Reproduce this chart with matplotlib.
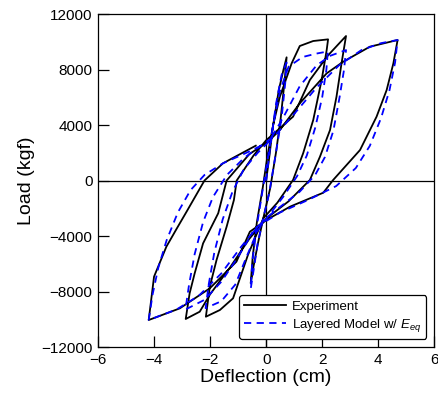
import numpy as np
import matplotlib.pyplot as plt

plt.rcParams['font.family'] = ['Liberation Sans', 'DejaVu Sans']
plt.rcParams['mathtext.fontset'] = 'custom'
plt.rcParams['mathtext.rm'] = 'Liberation Sans'
plt.rcParams['mathtext.it'] = 'Liberation Sans:italic'

# measured load-deflection history (cm, kgf)
exp_defl = [0.00, 0.10, 0.25, 0.45, 0.62, 0.73,
            0.66, 0.52, 0.35, 0.15, -0.10, -0.30, -0.45, -0.55,
            -0.48, -0.33, -0.12, 0.05, 0.25, 0.49, 0.91, 1.20, 1.68, 2.21,
            2.16, 1.98, 1.68, 1.32, 0.96, 0.40, -0.10, -0.65, -1.18, -1.65, -2.15,
            -2.01, -1.77, -1.41, -1.15, -1.05, -0.45, 0.00, 0.96, 1.56, 2.20, 2.85,
            2.69, 2.51, 2.28, 1.92, 1.56, 0.80, 0.00, -0.60, -1.30, -2.00, -2.37, -2.87,
            -2.73, -2.55, -2.25, -1.71, -1.41, -0.60, 0.07, 0.49, 1.20, 2.16, 2.75, 3.70, 4.69,
            4.54, 4.30, 3.94, 3.35, 2.39, 2.04, 0.85, 0.01, -0.58, -1.06, -2.01, -3.08, -4.19,
            -4.00, -3.56, -3.20, -2.84, -2.20, -1.54, -0.37]
exp_load = [0, 1500, 4000, 6500, 8000, 8880,
            7200, 4500, 2000, -500, -2700, -4600, -6200, -7410,
            -5500, -3000, -500, 1800, 4000, 6040, 8446, 9694, 10054, 10173,
            9405, 7243, 4360, 1960, 36, -1600, -2720, -5370, -8490, -9333, -9816,
            -7650, -5730, -3330, -1405, 0, 1800, 2900, 4600, 7243, 9000, 10414,
            8446, 6040, 3640, 1715, 36, -1500, -2750, -4200, -6300, -8200, -9455, -9980,
            -8130, -6690, -4530, -2360, 0, 1900, 2800, 3640, 5564, 7724, 8562, 9643, 10126,
            8446, 6522, 4600, 2198, 36, -879, -1887, -2847, -3690, -5850, -7770, -9213, -10054,
            -6930, -4770, -3500, -2250, 0, 1240, 2510]

# layered model prediction
mod_defl = [0.00, 0.15, 0.35, 0.55, 0.73,
            0.68, 0.55, 0.35, 0.10, -0.10, -0.30, -0.45, -0.55,
            -0.50, -0.35, -0.15, 0.05, 0.25, 0.50, 0.80, 1.30, 1.80, 2.20,
            2.15, 2.00, 1.75, 1.45, 1.10, 0.60, 0.10, -0.30, -0.70, -1.10, -1.60, -2.16,
            -2.05, -1.85, -1.55, -1.20, -0.80, -0.30, 0.10, 0.60, 1.20, 1.80, 2.30, 2.85,
            2.78, 2.62, 2.40, 2.10, 1.75, 1.20, 0.50, 0.00, -0.50, -1.00, -1.60, -2.20, -2.88,
            -2.75, -2.55, -2.25, -1.90, -1.40, -0.80, -0.20, 0.30, 1.00, 1.80, 2.60, 3.40, 4.10, 4.69,
            4.60, 4.40, 4.10, 3.70, 3.20, 2.50, 1.50, 0.50, -0.30, -0.90, -1.60, -2.40, -3.20, -4.19,
            -4.05, -3.85, -3.55, -3.15, -2.70, -2.20, -1.54, -0.70, 0.00]
mod_load = [0, 2500, 5500, 7600, 8500,
            7000, 4500, 2000, -1000, -2700, -4500, -6500, -7800,
            -6000, -3500, -1000, 1500, 4000, 6500, 8200, 8900, 9150, 9300,
            8000, 6000, 3800, 1800, 300, -1200, -2500, -3600, -5500, -7500, -8700, -9200,
            -7500, -5200, -2800, -800, 800, 2000, 2800, 4500, 6800, 8300, 9000, 9400,
            8000, 6000, 3600, 1700, 400, -800, -1900, -2700, -3800, -5500, -7300, -8600, -9300,
            -7500, -5300, -3000, -1200, 400, 1600, 2500, 3200, 4800, 6700, 8300, 9400, 9900, 10126,
            8500, 6500, 4500, 2500, 900, -400, -1400, -2300, -3300, -4800, -6700, -8300, -9300, -10054,
            -8200, -6300, -4300, -2300, -700, 400, 1240, 2000, 2680]

fig = plt.figure(figsize=(4.39, 3.99), dpi=100)
ax = fig.add_axes([0.2232, 0.1303, 0.7661, 0.8346])

ax.axhline(0, color='black', lw=0.9, zorder=1)
ax.axvline(0, color='black', lw=0.9, zorder=1)

ax.plot(exp_defl, exp_load, color='black', lw=1.3, label='Experiment', zorder=3)
ax.plot(mod_defl, mod_load, color='blue', lw=1.3, ls=(0, (4, 3)),
        label=r'Layered Model w/ $E_{eq}$', zorder=4)

ax.set_xlim(-6, 6)
ax.set_ylim(-12000, 12000)
ax.set_xticks(np.arange(-6, 7, 2))
ax.set_yticks(np.arange(-12000, 12001, 4000))
ax.tick_params(direction='in', length=8, width=0.9, labelsize=11, pad=4)
for s in ax.spines.values():
    s.set_linewidth(0.9)

ax.set_xlabel('Deflection (cm)', fontsize=14, labelpad=2)
ax.set_ylabel('Load (kgf)', fontsize=14, labelpad=4)

leg = ax.legend(loc='lower right', fontsize=9.5, handlelength=3.2,
                fancybox=True, framealpha=1, edgecolor='black',
                borderaxespad=0.6, labelspacing=0.3, handletextpad=0.4)
leg.get_frame().set_linewidth(0.9)

fig.savefig('out.png', dpi=100)
